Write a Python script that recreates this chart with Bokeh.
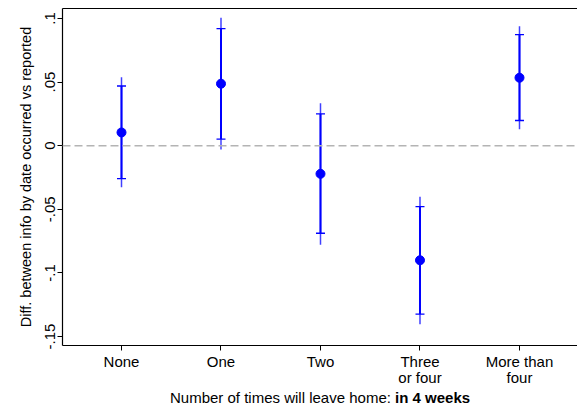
from bokeh.plotting import figure
from bokeh.models import (ColumnDataSource, Range1d, FixedTicker, LinearAxis, Span, Div)
from bokeh.layouts import column
from bokeh.embed import file_html
from bokeh.resources import INLINE

categories = ["None", "One", "Two", "Three\nor four", "More than\nfour"]
positions = [1, 2, 3, 4, 5]
estimate = [0.0104, 0.0487, -0.0221, -0.0900, 0.0534]
ci90_lo = [-0.0258, 0.0052, -0.0688, -0.1323, 0.0198]
ci90_hi = [0.0469, 0.0920, 0.0250, -0.0479, 0.0873]
ci95_lo = [-0.0326, -0.0030, -0.0779, -0.1404, 0.0130]
ci95_hi = [0.0537, 0.1005, 0.0334, -0.0401, 0.0938]
y_ticks = [-0.15, -0.1, -0.05, 0, 0.05, 0.1]
y_tick_labels = ["-.15", "-.1", "-.05", "0", ".05", ".1"]
x_title_regular = "Number of times will leave home:"
x_title_bold = "in 4 weeks"

FONT = "Liberation Sans"
BLUE = "#0000ff"

src = ColumnDataSource(dict(x=positions, est=estimate, lo90=ci90_lo, hi90=ci90_hi,
                            lo95=ci95_lo, hi95=ci95_hi))

p = figure(width=577, height=388, output_backend="svg", toolbar_location=None,
           x_range=Range1d(0.407, 5.583), y_range=Range1d(-0.157, 0.1078),
           min_border_left=62, min_border_right=0, min_border_top=8, min_border_bottom=41)
p.outline_line_color = None
p.grid.grid_line_color = None
p.background_fill_color = "white"
p.border_fill_color = "white"
p.margin = 0

# zero reference line
p.add_layout(Span(location=0, dimension="width", line_color="#b4b4b4",
                  line_width=1.5, line_dash="8 4"))

# 95% spikes
p.segment(x0="x", y0="lo95", x1="x", y1="hi95", source=src, line_color=BLUE,
          line_width=1.5, line_alpha=0.75)
# 90% capped range
p.segment(x0="x", y0="lo90", x1="x", y1="hi90", source=src, line_color=BLUE, line_width=2)
p.scatter(x="x", y="lo90", source=src, marker="dash", size=9, line_color=BLUE, line_width=1.3)
p.scatter(x="x", y="hi90", source=src, marker="dash", size=9, line_color=BLUE, line_width=1.3)
# point estimates
p.scatter(x="x", y="est", source=src, marker="circle", size=9, fill_color=BLUE, line_color=BLUE)

# axes
xa = p.xaxis[0]
xa.ticker = FixedTicker(ticks=positions)
xa.major_label_overrides = {pos: lab for pos, lab in zip(positions, categories)}
xa.minor_tick_line_color = None
xa.major_tick_in = 0
xa.major_tick_out = 5
xa.major_label_standoff = 2
xa.major_label_text_font = FONT
xa.major_label_text_font_size = "15px"
xa.major_label_text_line_height = 0.95
xa.major_label_text_color = "black"
xa.axis_line_width = 1.2
xa.axis_line_color = "black"

ya = p.yaxis[0]
ya.ticker = FixedTicker(ticks=y_ticks)
ya.major_label_overrides = {t: l for t, l in zip(y_ticks, y_tick_labels)}
ya.major_label_orientation = "vertical"
ya.minor_tick_line_color = None
ya.major_tick_in = 0
ya.major_tick_out = 5
ya.major_label_standoff = 2
ya.major_label_text_font = FONT
ya.major_label_text_font_size = "15px"
ya.major_label_text_color = "black"
ya.axis_line_width = 1.2
ya.axis_line_color = "black"
ya.axis_label = "Diff. between info by date occurred vs reported"
ya.axis_label_text_font = FONT
ya.axis_label_text_font_size = "14.5px"
ya.axis_label_text_font_style = "normal"
ya.axis_label_text_color = "black"
ya.axis_label_standoff = 9

top = LinearAxis(ticker=FixedTicker(ticks=[]), major_label_text_font_size="0px",
                 major_tick_out=0, major_tick_in=0, minor_tick_out=0, minor_tick_in=0,
                 axis_line_color="black", axis_line_width=1.2)
p.add_layout(top, "above")

# x axis title with a bold segment
title = Div(
    text=(f'<div style="font-family:\'{FONT}\';font-size:15px;line-height:17px;'
          f'color:black;white-space:nowrap;padding-left:170px;padding-top:1px;">'
          f'{x_title_regular} <b>{x_title_bold}</b></div>'),
    width=577, height=25, margin=0)

layout = column(p, title, spacing=0, margin=0)
open("out.html", "w").write(file_html(layout, INLINE))
